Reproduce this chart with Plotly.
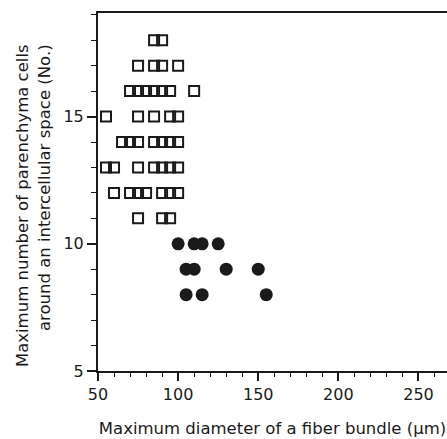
import plotly.graph_objects as go

# Open squares (diameter, cell count)
square_x = [85, 90,
            75, 85, 90, 100,
            70, 75, 80, 85, 90, 95, 110,
            55, 75, 85, 95, 100,
            65, 70, 75, 85, 90, 95, 100,
            55, 60, 75, 85, 90, 95, 100,
            60, 70, 75, 80, 90, 95, 100,
            75, 90, 95]
square_y = [18, 18,
            17, 17, 17, 17,
            16, 16, 16, 16, 16, 16, 16,
            15, 15, 15, 15, 15,
            14, 14, 14, 14, 14, 14, 14,
            13, 13, 13, 13, 13, 13, 13,
            12, 12, 12, 12, 12, 12, 12,
            11, 11, 11]

# Filled circles
circle_x = [100, 110, 115, 125,
            105, 110, 130, 150,
            105, 115, 155]
circle_y = [10, 10, 10, 10,
            9, 9, 9, 9,
            8, 8, 8]

x_ticks = [50, 100, 150, 200, 250]
y_ticks = [5, 10, 15]

FONT = "DejaVu Sans"
INK = "#1a1a1a"

fig = go.Figure()
fig.add_trace(go.Scatter(
    x=square_x, y=square_y, mode="markers",
    marker=dict(symbol="square-open", size=10, color=INK, line=dict(width=2, color=INK)),
    showlegend=False, cliponaxis=False, hoverinfo="skip"))
fig.add_trace(go.Scatter(
    x=circle_x, y=circle_y, mode="markers",
    marker=dict(symbol="circle", size=13, color=INK),
    showlegend=False, cliponaxis=False, hoverinfo="skip"))

fig.update_layout(
    width=447, height=439,
    margin=dict(l=98, r=0, t=13, b=68),
    paper_bgcolor="white", plot_bgcolor="white",
    font=dict(family=FONT, size=16, color=INK),
    xaxis=dict(
        range=[50, 267.8], tickvals=x_ticks, ticktext=[str(v) for v in x_ticks],
        showgrid=False, zeroline=False, showline=True, linecolor=INK, linewidth=2,
        mirror=True, ticks="outside", ticklen=8, tickwidth=1.5, tickcolor=INK,
        minor=dict(dtick=10, tick0=50, ticks="outside", ticklen=4, tickwidth=1.2, tickcolor=INK, showgrid=False),
        tickfont=dict(family=FONT, size=16, color=INK),
        title=dict(text="Maximum diameter of a fiber bundle (μm)", standoff=19,
                   font=dict(family=FONT, size=16.5, color=INK)),
    ),
    yaxis=dict(
        range=[5, 19.07], tickvals=y_ticks, ticktext=[str(v) for v in y_ticks],
        showgrid=False, zeroline=False, showline=True, linecolor=INK, linewidth=2,
        mirror=False, ticks="outside", ticklen=9, tickwidth=1.5, tickcolor=INK,
        minor=dict(dtick=1, tick0=5, ticks="outside", ticklen=5, tickwidth=1.2, tickcolor=INK, showgrid=False),
        tickfont=dict(family=FONT, size=16, color=INK),
    ),
    annotations=[
        dict(text="Maximum number of parenchyma cells", textangle=-90,
             xref="paper", yref="paper", x=-98/349, y=1 - (42 - 13) / 357,
             xanchor="left", yanchor="top", showarrow=False, xshift=11,
             font=dict(family=FONT, size=16.5, color=INK)),
        dict(text="around an intercellular space (No.)", textangle=-90,
             xref="paper", yref="paper", x=-98/349, y=1 - (42 - 13) / 357,
             xanchor="left", yanchor="top", showarrow=False, xshift=33,
             font=dict(family=FONT, size=16.5, color=INK)),
    ],
)

fig.write_html("out.html", config={"displayModeBar": False},
               post_script="document.body.style.margin='0';document.body.style.overflow='hidden';")
